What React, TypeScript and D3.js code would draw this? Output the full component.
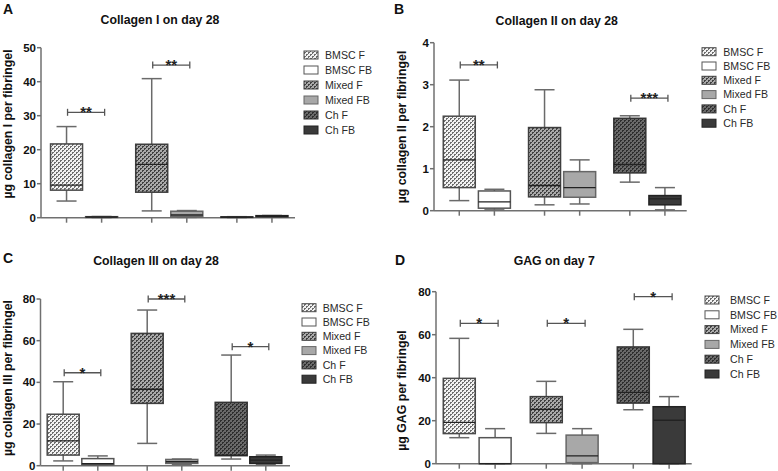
import React from "react";
import * as d3 from "d3";

const groups = ["BMSC", "Mixed", "Ch"];
const series = ["F", "FB"];
const legendLabels = ["BMSC F", "BMSC FB", "Mixed F", "Mixed FB", "Ch F", "Ch FB"];

// [min, q1, median, q3, max] per box, order as legendLabels
const collagenI = [
  [4.9, 8.1, 9.6, 21.7, 26.8],
  [0.05, 0.1, 0.2, 0.3, 0.35],
  [2.0, 7.5, 15.7, 21.6, 40.9],
  [0.1, 0.3, 0.8, 1.9, 2.1],
  [0.05, 0.1, 0.15, 0.25, 0.3],
  [0.2, 0.3, 0.45, 0.6, 0.65],
];
const collagenII = [
  [0.24, 0.55, 1.21, 2.25, 3.11],
  [0.02, 0.06, 0.21, 0.47, 0.51],
  [0.14, 0.33, 0.6, 1.98, 2.88],
  [0.16, 0.32, 0.55, 0.93, 1.21],
  [0.68, 0.9, 1.1, 2.2, 2.26],
  [0.02, 0.14, 0.28, 0.36, 0.55],
];
const collagenIII = [
  [2.3, 5.1, 11.9, 24.7, 40.3],
  [0.3, 0.5, 1.0, 3.4, 4.7],
  [10.7, 29.9, 36.7, 63.5, 74.7],
  [0.6, 1.1, 1.9, 3.0, 3.2],
  [3.2, 4.8, 5.1, 30.4, 53.1],
  [0.6, 1.1, 2.7, 4.3, 5.1],
];
const gag = [
  [12.1, 14.0, 19.2, 39.7, 58.3],
  [0, 0, 0, 12.1, 16.3],
  [14.1, 19.1, 25.3, 31.2, 38.3],
  [0, 0.5, 3.6, 13.3, 16.3],
  [25.1, 28.2, 33.2, 54.3, 62.5],
  [0, 0, 20.2, 26.5, 31.2],
];

const ticksA = [0, 10, 20, 30, 40, 50];
const ticksB = [0, 1, 2, 3, 4];
const ticksC = [0, 20, 40, 60, 80];
const ticksD = [0, 20, 40, 60, 80];

const bracketsA = [
  { a: 0, b: 1, y: 31, label: "**" },
  { a: 2, b: 3, y: 44.9, label: "**" },
];
const bracketsB = [
  { a: 0, b: 1, y: 3.47, label: "**" },
  { a: 4, b: 5, y: 2.68, label: "***" },
];
const bracketsC = [
  { a: 0, b: 1, y: 44.6, label: "*" },
  { a: 2, b: 3, y: 80, label: "***" },
  { a: 4, b: 5, y: 57.1, label: "*" },
];
const bracketsD = [
  { a: 0, b: 1, y: 65.3, label: "*" },
  { a: 2, b: 3, y: 65.3, label: "*" },
  { a: 4, b: 5, y: 77.7, label: "*" },
];

const FONT = "Arial, 'Liberation Sans', Helvetica, sans-serif";

const fills = ["url(#patL)", "#ffffff", "url(#patM)", "#a8a8a8", "url(#patD)", "#3a3a3a"];
const strokes = ["#4a4a4a", "#555", "#3e3e3e", "#666", "#333", "#222"];

type Layout = {
  axisX: number;
  axisEnd: number;
  band: [number, number];
  yTop: number;
  yZero: number;
  titleX: number;
  titleY: number;
  letterX: number;
  letterY: number;
  yLabelX: number;
  yLabelY: number;
  legX: number;
  legTextX: number;
  legY: number;
  legStep: number;
};

function Panel(props: {
  letter: string;
  title: string;
  yLabel: string;
  data: number[][];
  ticks: number[];
  brackets: { a: number; b: number; y: number; label: string }[];
  L: Layout;
}) {
  const { letter, title, yLabel, data, ticks, brackets, L } = props;
  const yMax = ticks[ticks.length - 1];
  const y = d3.scaleLinear().domain([0, yMax]).range([L.yZero, L.yTop]);
  const gx = d3.scaleBand().domain(groups).range(L.band).padding(0);
  const sx = d3.scalePoint().domain(series).range([0, gx.bandwidth()]).padding(0.714);
  const cx = (i: number) => (gx(groups[Math.floor(i / 2)]) as number) + (sx(series[i % 2]) as number);
  const boxW = 32;
  const capW = 20;
  const axisCol = "#707070";
  return (
    <g>
      <text x={L.letterX} y={L.letterY} fontFamily={FONT} fontWeight="bold" fontSize={14} fill="#111">
        {letter}
      </text>
      <text x={L.titleX} y={L.titleY} fontFamily={FONT} fontWeight="bold" fontSize={12.3} fill="#111" textAnchor="middle">
        {title}
      </text>
      <text
        transform={`translate(${L.yLabelX},${L.yLabelY}) rotate(-90)`}
        fontFamily={FONT}
        fontWeight="bold"
        fontSize={12.3}
        fill="#111"
        textAnchor="middle"
      >
        {yLabel}
      </text>
      {/* y axis */}
      <line x1={L.axisX} x2={L.axisX} y1={L.yZero} y2={L.yTop} stroke={axisCol} strokeWidth={1.5} />
      {ticks.map((t) => (
        <g key={t}>
          <line x1={L.axisX - 4} x2={L.axisX} y1={y(t)} y2={y(t)} stroke={axisCol} strokeWidth={1.5} />
          <text
            x={L.axisX - 5}
            y={y(t)}
            dy="0.36em"
            textAnchor="end"
            fontFamily={FONT}
            fontWeight="bold"
            fontSize={11.5}
            fill="#111"
          >
            {t}
          </text>
        </g>
      ))}
      {/* x axis */}
      <line x1={L.axisX} x2={L.axisEnd} y1={L.yZero} y2={L.yZero} stroke={axisCol} strokeWidth={1.5} />
      {data.map((_, i) => (
        <line key={i} x1={cx(i)} x2={cx(i)} y1={L.yZero} y2={L.yZero + 5} stroke={axisCol} strokeWidth={1.5} />
      ))}
      {/* boxes */}
      {data.map((d, i) => {
        const c = cx(i);
        const [mn, q1, md, q3, mx] = d;
        return (
          <g key={i}>
            <line x1={c} x2={c} y1={y(q3)} y2={y(mx)} stroke="#6a6a6a" strokeWidth={1.5} />
            <line x1={c} x2={c} y1={y(q1)} y2={y(mn)} stroke="#6a6a6a" strokeWidth={1.5} />
            <line x1={c - capW / 2} x2={c + capW / 2} y1={y(mx)} y2={y(mx)} stroke="#6a6a6a" strokeWidth={1.5} />
            <line x1={c - capW / 2} x2={c + capW / 2} y1={y(mn)} y2={y(mn)} stroke="#6a6a6a" strokeWidth={1.5} />
            <rect
              x={c - boxW / 2}
              y={y(q3)}
              width={boxW}
              height={Math.max(0.5, y(q1) - y(q3))}
              fill={fills[i]}
              stroke={strokes[i]}
              strokeWidth={1.5}
            />
            <line x1={c - boxW / 2} x2={c + boxW / 2} y1={y(md)} y2={y(md)} stroke="#222" strokeWidth={1.3} />
          </g>
        );
      })}
      {/* significance brackets */}
      {brackets.map((b, k) => {
        const x1 = cx(b.a) + 1;
        const x2 = cx(b.b) + 3;
        const yy = y(b.y);
        return (
          <g key={k}>
            <line x1={x1} x2={x2} y1={yy} y2={yy} stroke="#555" strokeWidth={1.3} />
            <line x1={x1} x2={x1} y1={yy - 3.5} y2={yy + 3.5} stroke="#555" strokeWidth={1.3} />
            <line x1={x2} x2={x2} y1={yy - 3.5} y2={yy + 3.5} stroke="#555" strokeWidth={1.3} />
            <text
              x={(x1 + x2) / 2}
              y={yy + 5}
              textAnchor="middle"
              fontFamily={FONT}
              fontWeight="bold"
              fontSize={15}
              fill="#222"
            >
              {b.label}
            </text>
          </g>
        );
      })}
      {/* legend */}
      {legendLabels.map((lab, i) => {
        const yy = L.legY + i * L.legStep;
        return (
          <g key={lab}>
            <rect x={L.legX} y={yy - 4} width={14} height={8} fill={fills[i]} stroke={strokes[i]} strokeWidth={1} />
            <text x={L.legTextX} y={yy} dy="0.36em" fontFamily={FONT} fontSize={10.6} fill="#2a2a2a">
              {lab}
            </text>
          </g>
        );
      })}
    </g>
  );
}

function Pattern({ id, bg, fg }: { id: string; bg: string; fg: string }) {
  return (
    <pattern id={id} width={4} height={4} patternUnits="userSpaceOnUse">
      <rect width={4} height={4} fill={bg} />
      <rect x={0} y={0} width={2} height={1} fill={fg} />
      <rect x={0} y={1} width={1} height={1} fill={fg} />
      <rect x={2} y={2} width={2} height={1} fill={fg} />
      <rect x={2} y={3} width={1} height={1} fill={fg} />
    </pattern>
  );
}

const layoutA: Layout = {
  axisX: 41, axisEnd: 295, band: [41.5, 297], yTop: 47.7, yZero: 217.7,
  titleX: 160, titleY: 23.5, letterX: 3, letterY: 14,
  yLabelX: 12, yLabelY: 124, legX: 304, legTextX: 325, legY: 55, legStep: 15,
};
const layoutB: Layout = {
  axisX: 434, axisEnd: 686.7, band: [434.2, 690], yTop: 42.7, yZero: 210.7,
  titleX: 556.7, titleY: 24.5, letterX: 394, letterY: 14,
  yLabelX: 406, yLabelY: 127, legX: 702, legTextX: 723.3, legY: 51.7, legStep: 14.3,
};
const layoutC: Layout = {
  axisX: 40.5, axisEnd: 290, band: [38.5, 290.5], yTop: 299, yZero: 465.7,
  titleX: 156, titleY: 265, letterX: 3, letterY: 263,
  yLabelX: 12, yLabelY: 378, legX: 302, legTextX: 322.7, legY: 307.7, legStep: 14.3,
};
const layoutD: Layout = {
  axisX: 436, axisEnd: 691.7, band: [433.7, 694.7], yTop: 291.7, yZero: 463.7,
  titleX: 554.3, titleY: 264.5, letterX: 395, letterY: 265,
  yLabelX: 406, yLabelY: 390.5, legX: 705, legTextX: 730, legY: 300, legStep: 14.8,
};

export default function App() {
  return (
    <svg
      width={778}
      height={471}
      viewBox="0 0 778 471"
      style={{ position: "absolute", left: 0, top: 0, background: "#fff" }}
    >
      <defs>
        <Pattern id="patL" bg="#f2f2f2" fg="#6e6e6e" />
        <Pattern id="patM" bg="#a9a9a9" fg="#404040" />
        <Pattern id="patD" bg="#6a6a6a" fg="#2e2e2e" />
      </defs>
      <rect width={778} height={471} fill="#fff" />
      <Panel letter="A" title="Collagen I on day 28" yLabel="µg collagen I per fibringel" data={collagenI} ticks={ticksA} brackets={bracketsA} L={layoutA} />
      <Panel letter="B" title="Collagen II on day 28" yLabel="µg collagen II per fibringel" data={collagenII} ticks={ticksB} brackets={bracketsB} L={layoutB} />
      <Panel letter="C" title="Collagen III on day 28" yLabel="µg collagen III per fibringel" data={collagenIII} ticks={ticksC} brackets={bracketsC} L={layoutC} />
      <Panel letter="D" title="GAG on day 7" yLabel="µg GAG per fibringel" data={gag} ticks={ticksD} brackets={bracketsD} L={layoutD} />
    </svg>
  );
}
